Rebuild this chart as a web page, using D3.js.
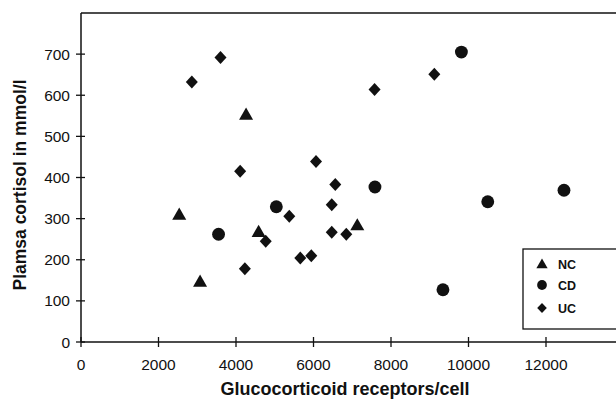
<!DOCTYPE html>
<html>
<head>
<meta charset="utf-8">
<script src="https://cdn.jsdelivr.net/npm/d3@7"></script>
<style>
html,body{margin:0;padding:0;background:#fff;}
svg{display:block;}
text{font-family:"Liberation Sans",Arial,sans-serif;fill:#111;}
</style>
</head>
<body>
<svg id="chart" width="616" height="403"></svg>
<script>
const xTicks = [0, 2000, 4000, 6000, 8000, 10000, 12000];
const yTicks = [0, 100, 200, 300, 400, 500, 600, 700];
const groups = ["NC", "CD", "UC"];
const ncX = [2535, 3073, 4260, 4584, 7130];
const ncY = [311, 148, 554, 269, 285];
const cdX = [3550, 5041, 7586, 9341, 9817, 10497, 12464];
const cdY = [262, 329, 377, 127, 705, 341, 369];
const ucX = [2860, 3600, 4107, 4229, 4767, 5375, 5659, 5943, 6065, 6471, 6471, 6562, 6846, 7576, 9118];
const ucY = [632, 692, 415, 178, 245, 306, 204, 210, 439, 334, 267, 383, 262, 614, 651];

const svg = d3.select("#chart");
const x = d3.scaleLinear().domain([0, 14000]).range([81, 623.5]);
const y = d3.scaleLinear().domain([0, 800]).range([342, 13]);

const ink = "#111";
// frame
svg.append("line").attr("x1", x(0)).attr("x2", 616).attr("y1", y(800)).attr("y2", y(800)).attr("stroke", ink).attr("stroke-width", 1.5);
svg.append("line").attr("x1", x(0)).attr("x2", x(0)).attr("y1", y(800)).attr("y2", y(0)).attr("stroke", ink).attr("stroke-width", 1.5);
svg.append("line").attr("x1", x(0)).attr("x2", 616).attr("y1", y(0)).attr("y2", y(0)).attr("stroke", ink).attr("stroke-width", 1.5);

// y axis ticks
const yAxis = svg.append("g");
yAxis.selectAll("line").data(yTicks).join("line")
  .attr("x1", x(0) - 5).attr("x2", x(0) + 4)
  .attr("y1", d => y(d)).attr("y2", d => y(d))
  .attr("stroke", ink).attr("stroke-width", 1.3);
yAxis.selectAll("text").data(yTicks).join("text")
  .attr("x", x(0) - 11).attr("y", d => y(d) + 5.5)
  .attr("text-anchor", "end").attr("font-size", 15.5)
  .text(d => d);

// x axis ticks
const xAxis = svg.append("g");
xAxis.selectAll("line").data(xTicks).join("line")
  .attr("x1", d => x(d)).attr("x2", d => x(d))
  .attr("y1", y(0) - 5).attr("y2", y(0) + 5)
  .attr("stroke", ink).attr("stroke-width", 1.3);
xAxis.selectAll("text").data(xTicks).join("text")
  .attr("x", d => x(d)).attr("y", 370)
  .attr("text-anchor", "middle").attr("font-size", 15.5)
  .text(d => d);

// axis titles
svg.append("text").attr("x", 345).attr("y", 395).attr("text-anchor", "middle")
  .attr("font-size", 18).attr("font-weight", "bold").text("Glucocorticoid receptors/cell");
svg.append("text").attr("transform", "translate(25.5,185) rotate(-90)").attr("text-anchor", "middle")
  .attr("font-size", 17.5).attr("font-weight", "bold").text("Plamsa cortisol in mmol/l");

function diamond(w, h) {
  return `M0,${-h}L${w},0L0,${h}L${-w},0Z`;
}
const shapes = {
  NC: d3.symbol().type(d3.symbolTriangle).size(85)(),
  CD: d3.symbol().type(d3.symbolCircle).size(130)(),
  UC: diamond(6, 6.5)
};
const legShapes = {
  NC: d3.symbol().type(d3.symbolTriangle).size(55)(),
  CD: d3.symbol().type(d3.symbolCircle).size(75)(),
  UC: diamond(4.8, 5)
};
const series = [
  {name: "NC", xs: ncX, ys: ncY},
  {name: "CD", xs: cdX, ys: cdY},
  {name: "UC", xs: ucX, ys: ucY}
];
series.forEach(s => {
  svg.append("g").selectAll("path").data(s.xs.map((v, i) => [v, s.ys[i]])).join("path")
    .attr("d", shapes[s.name])
    .attr("transform", d => `translate(${x(d[0])},${y(d[1]) + (s.name === "NC" ? 1.5 : 0)})`)
    .attr("fill", ink);
});

// legend
const leg = svg.append("g");
leg.append("rect").attr("x", 523).attr("y", 249).attr("width", 100).attr("height", 80)
  .attr("fill", "#fff").attr("stroke", ink).attr("stroke-width", 1.3);
const legY = [264, 285, 308];
groups.forEach((g, i) => {
  leg.append("path").attr("d", legShapes[g]).attr("transform", `translate(542,${legY[i] + (g === "NC" ? 1 : 0)})`).attr("fill", ink);
  leg.append("text").attr("x", 558).attr("y", legY[i] + 4.5).attr("font-size", 12.5).attr("font-weight", "bold").text(g);
});
</script>
</body>
</html>
